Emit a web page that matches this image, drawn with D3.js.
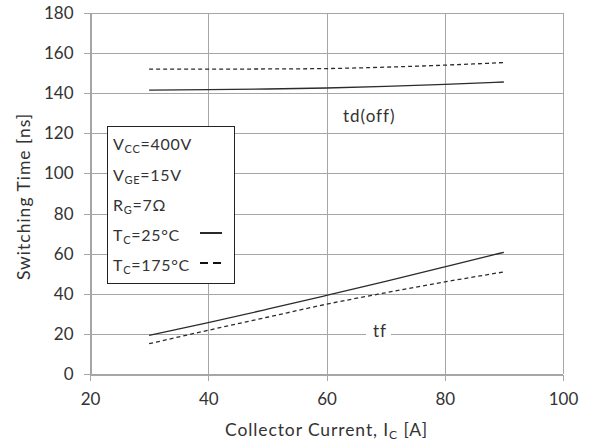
<!DOCTYPE html>
<html>
<head>
<meta charset="utf-8">
<script src="https://cdn.jsdelivr.net/npm/d3@7"></script>
<style>
  body { margin: 0; background: #fff; }
  text { font-family: Lato, "Open Sans", sans-serif; fill: #333; }
</style>
</head>
<body>
<svg id="chart" width="589" height="447"></svg>
<script>
// Collector current (A) at which switching times were measured
const currents = [30, 40, 50, 60, 70, 80, 90];
// Turn-off delay time td(off), ns
const tdOff25 = [141.5, 141.8, 142.1, 142.6, 143.4, 144.4, 145.6];
const tdOff175 = [152.0, 152.0, 152.1, 152.3, 153.0, 154.0, 155.3];
// Fall time tf, ns
const tf25 = [19.3, 25.6, 32.3, 39.2, 46.2, 53.4, 60.7];
const tf175 = [15.1, 21.8, 28.3, 34.8, 40.5, 45.9, 50.9];

const xTicks = [20, 40, 60, 80, 100];
const yTicks = [0, 20, 40, 60, 80, 100, 120, 140, 160, 180];

const svg = d3.select("#chart");
const plot = { left: 90, right: 563, top: 13, bottom: 374 };

const x = d3.scaleLinear().domain([20, 100]).range([plot.left, plot.right]);
const y = d3.scaleLinear().domain([0, 180]).range([plot.bottom, plot.top]);

const gridColor = "#a6a6a6";

// Gridlines
const grid = svg.append("g").attr("shape-rendering", "crispEdges");
grid.selectAll("line.h").data(yTicks).join("line")
  .attr("x1", plot.left).attr("x2", plot.right)
  .attr("y1", d => Math.round(y(d)) + 0.5).attr("y2", d => Math.round(y(d)) + 0.5)
  .attr("stroke", gridColor).attr("stroke-width", 1);
grid.selectAll("line.v").data(xTicks).join("line")
  .attr("y1", plot.top).attr("y2", plot.bottom)
  .attr("x1", d => Math.round(x(d)) + 0.5).attr("x2", d => Math.round(x(d)) + 0.5)
  .attr("stroke", gridColor).attr("stroke-width", 1);

// Axes with outward ticks
const yAxis = svg.append("g")
  .attr("transform", `translate(${Math.round(x(20)) + 0.5},0)`)
  .call(d3.axisLeft(y).tickValues(yTicks).tickSize(7).tickPadding(10));
const xAxis = svg.append("g")
  .attr("transform", `translate(0,${Math.round(y(0)) + 0.5})`)
  .call(d3.axisBottom(x).tickValues(xTicks).tickSize(6).tickPadding(12));
[yAxis, xAxis].forEach(a => {
  a.select(".domain").attr("stroke", gridColor).attr("shape-rendering", "crispEdges");
  a.selectAll(".tick line").attr("stroke", gridColor).attr("shape-rendering", "crispEdges");
  a.selectAll(".tick text").style("font-family", "Lato, 'Open Sans', sans-serif")
    .style("font-size", "17px").attr("fill", "#333");
});

// Curves
const line = d3.line()
  .x((d, i) => x(currents[i]))
  .y(d => y(d))
  .curve(d3.curveMonotoneX);

const series = [
  { values: tdOff25, dash: null },
  { values: tdOff175, dash: "4,3" },
  { values: tf25, dash: null },
  { values: tf175, dash: "4,3" }
];
svg.append("g").selectAll("path").data(series).join("path")
  .attr("d", d => line(d.values))
  .attr("fill", "none")
  .attr("stroke", "#2b2b2b")
  .attr("stroke-width", 1.3)
  .attr("stroke-dasharray", d => d.dash);

// Curve annotations
svg.append("text").attr("x", 343).attr("y", 122)
  .style("font-size", "17px").style("letter-spacing", "1px").text("td(off)");
const tfY = Math.round(y(20)) + 0.5;
svg.append("rect").attr("x", 366).attr("y", tfY - 3).attr("width", 25).attr("height", 6)
  .attr("fill", "#fff");
svg.append("text").attr("x", 373).attr("y", tfY + 2)
  .style("font-size", "17px").style("letter-spacing", "1px").text("tf");

// Test condition legend
const lg = svg.append("g");
lg.append("rect").attr("x", 107.5).attr("y", 126.5).attr("width", 127).attr("height", 157)
  .attr("fill", "#fff").attr("stroke", "#222").attr("stroke-width", 1);

const legendRows = [
  { main: "V", sub: "CC", rest: "=400V" },
  { main: "V", sub: "GE", rest: "=15V" },
  { main: "R", sub: "G", rest: "=7Ω" },
  { main: "T", sub: "C", rest: "=25°C" },
  { main: "T", sub: "C", rest: "=175°C" }
];
const rowBase = [150, 181, 211, 241, 271];
legendRows.forEach((r, i) => {
  const t = lg.append("text").attr("x", 113).attr("y", rowBase[i])
    .style("font-size", "16px").style("letter-spacing", "0.7px");
  t.append("tspan").text(r.main);
  t.append("tspan").attr("dy", 3).style("font-size", "11px").text(r.sub);
  t.append("tspan").attr("dy", -3).text(r.rest);
});
lg.append("line").attr("x1", 200).attr("x2", 222).attr("y1", 233).attr("y2", 233)
  .attr("stroke", "#111").attr("stroke-width", 1.8);
lg.append("line").attr("x1", 200).attr("x2", 222).attr("y1", 263).attr("y2", 263)
  .attr("stroke", "#111").attr("stroke-width", 1.8).attr("stroke-dasharray", "8,5");

// Axis titles
svg.append("text")
  .attr("transform", `translate(30,${(plot.top + plot.bottom) / 2 + 3}) rotate(-90)`)
  .attr("text-anchor", "middle").style("font-size", "17.5px").style("letter-spacing", "1px")
  .text("Switching Time [ns]");
const xt = svg.append("text").attr("x", (plot.left + plot.right) / 2).attr("y", 436)
  .attr("text-anchor", "middle").style("font-size", "17.5px").style("letter-spacing", "0.9px");
xt.append("tspan").text("Collector Current, I");
xt.append("tspan").attr("dy", 3).style("font-size", "12px").text("C");
xt.append("tspan").attr("dy", -3).text(" [A]");
</script>
</body>
</html>
